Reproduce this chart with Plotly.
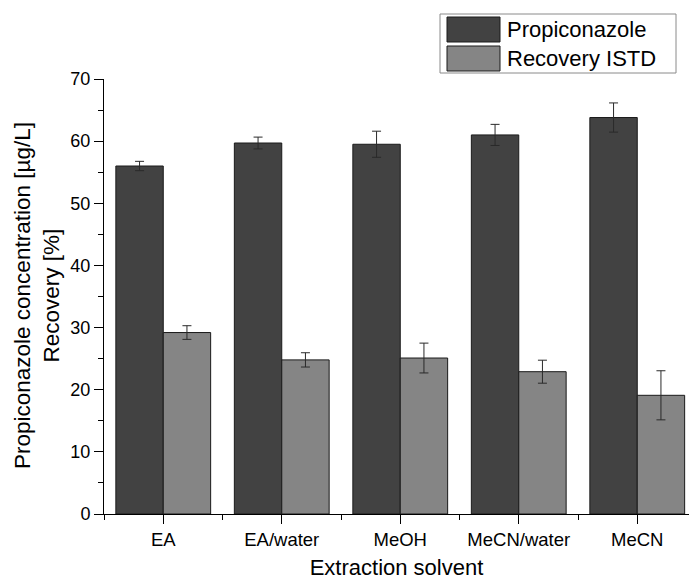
import plotly.graph_objects as go

# Extraction solvents compared
solvents = ["EA", "EA/water", "MeOH", "MeCN/water", "MeCN"]

# Propiconazole concentration (µg/L) with standard deviation
propiconazole = [56.0, 59.7, 59.5, 61.0, 63.8]
propiconazole_sd = [0.75, 0.95, 2.1, 1.7, 2.35]

# Recovery of the internal standard (%) with standard deviation
recovery_istd = [29.2, 24.8, 25.1, 22.9, 19.1]
recovery_istd_sd = [1.1, 1.15, 2.4, 1.85, 3.95]

series_names = ["Propiconazole", "Recovery ISTD"]
series_colors = ["#424242", "#858585"]

FONT = "Liberation Sans, Arial, sans-serif"
W, H = 689, 580
ML, MR, MT, MB = 104, 0, 79, 66
PW, PH = W - ML - MR, H - MT - MB

x = list(range(len(solvents)))

fig = go.Figure()
for name, vals, sd, col in zip(series_names,
                               [propiconazole, recovery_istd],
                               [propiconazole_sd, recovery_istd_sd],
                               series_colors):
    fig.add_trace(go.Bar(
        x=x, y=vals, name=name,
        marker=dict(color=col, line=dict(color="#1a1a1a", width=1)),
        error_y=dict(type="data", array=sd, visible=True,
                     color="#2a2a2a", thickness=1, width=4.5),
        showlegend=False,
    ))

fig.update_layout(
    width=W, height=H,
    margin=dict(l=ML, r=MR, t=MT, b=MB, pad=0),
    paper_bgcolor="white", plot_bgcolor="white",
    barmode="group", bargap=0.2, bargroupgap=0,
    font=dict(family=FONT, color="black"),
    xaxis=dict(
        range=[-0.5, -0.5 + PW / 118.5],
        tickmode="array", tickvals=x, ticktext=solvents,
        ticks="outside", ticklen=9, tickwidth=1, tickcolor="black",
        tickfont=dict(size=18.5, family=FONT),
        showline=True, linecolor="black", linewidth=1,
        showgrid=False, zeroline=False,
        minor=dict(tickmode="array", tickvals=[i - 0.5 for i in range(len(solvents) + 1)],
                   ticks="outside", ticklen=5, tickwidth=1, tickcolor="black"),
        title=dict(text="Extraction solvent", font=dict(size=22, family=FONT), standoff=14),
    ),
    yaxis=dict(
        range=[0, 70], dtick=10,
        ticks="outside", ticklen=9, tickwidth=1, tickcolor="black",
        tickfont=dict(size=18, family=FONT),
        showline=True, linecolor="black", linewidth=1,
        showgrid=False, zeroline=False,
        minor=dict(dtick=5, ticks="outside", ticklen=5, tickwidth=1, tickcolor="black"),
    ),
)

def px_x(p):
    return (p - ML) / PW

def px_y(p):
    return (MT + PH - p) / PH

# Two-line y-axis title
fig.add_annotation(
    text="Propiconazole concentration [µg/L]<br>Recovery [%]",
    textangle=-90, xref="paper", yref="paper",
    x=px_x(37), y=px_y(296), xanchor="center", yanchor="middle",
    showarrow=False, font=dict(size=22.5, family=FONT),
)

# Legend box with large swatches
fig.add_shape(type="rect", xref="paper", yref="paper",
              x0=px_x(440), x1=px_x(676), y0=px_y(73), y1=px_y(14),
              line=dict(color="#8a8a8a", width=1), fillcolor="white", layer="above")
swatch_rows = [(17, 42), (46, 71)]
for (top, bot), name, col in zip(swatch_rows, series_names, series_colors):
    fig.add_shape(type="rect", xref="paper", yref="paper",
                  x0=px_x(447), x1=px_x(500), y0=px_y(bot), y1=px_y(top),
                  line=dict(color="#1a1a1a", width=1), fillcolor=col, layer="above")
    fig.add_annotation(text=name, xref="paper", yref="paper",
                       x=px_x(505), y=px_y((top + bot) / 2),
                       xanchor="left", yanchor="middle", showarrow=False,
                       font=dict(size=22, family=FONT))

fig.write_html("out.html")
